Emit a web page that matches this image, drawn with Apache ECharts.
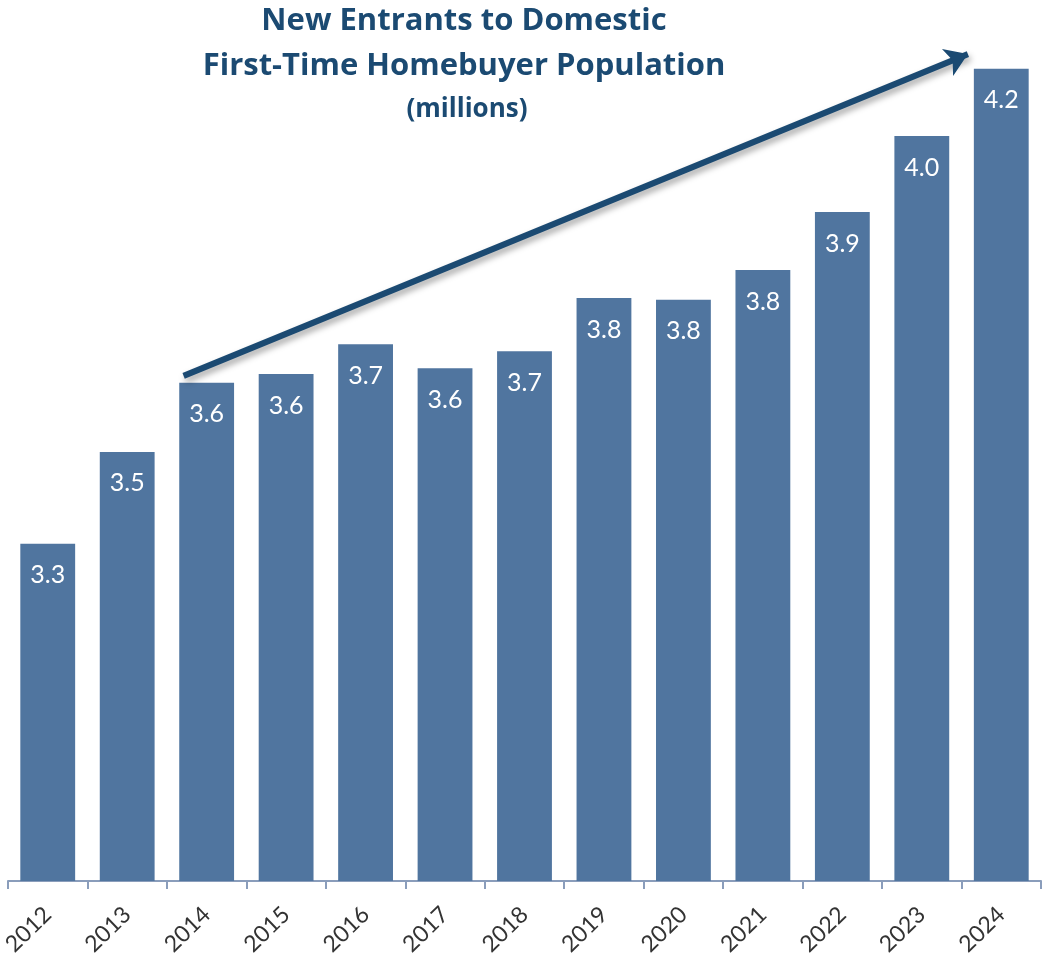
<!DOCTYPE html>
<html>
<head>
<meta charset="utf-8">
<script src="https://cdn.jsdelivr.net/npm/echarts@6/dist/echarts.min.js"></script>
<style>
  html, body { margin: 0; padding: 0; background: #ffffff; }
  #chart { width: 1042px; height: 954px; }
</style>
</head>
<body>
<div id="chart"></div>
<script>
// Years on the category axis
const years = ['2012', '2013', '2014', '2015', '2016', '2017', '2018',
               '2019', '2020', '2021', '2022', '2023', '2024'];
// New entrants to the first-time homebuyer population, millions
const entrants = [3.343, 3.50, 3.618, 3.633, 3.684, 3.643, 3.672,
                  3.763, 3.760, 3.811, 3.910, 4.04, 4.155];
// Trend arrow endpoints: [category position, value]
const trendStart = [1.71, 3.63];
const trendEnd = [11.58, 4.18];

const titleLines = ['New Entrants to Domestic', 'First-Time Homebuyer Population'];
const subtitle = '(millions)';

const navy = '#1b4a72';
const barColor = '#50759f';
const titleFont = '"Open Sans", Lato, sans-serif';
const font = 'Lato, "Open Sans", sans-serif';

const chart = echarts.init(document.getElementById('chart'), null, { renderer: 'canvas' });

chart.setOption({
  animation: false,
  backgroundColor: '#ffffff',
  title: [
    {
      text: titleLines.join('\n'),
      left: 459, top: -6, textAlign: 'center',
      textStyle: { fontFamily: titleFont, fontWeight: 'bold', fontSize: 31, lineHeight: 45, color: navy }
    },
    {
      text: subtitle,
      left: 462, top: 90, textAlign: 'center',
      textStyle: { fontFamily: titleFont, fontWeight: 'bold', fontSize: 26, lineHeight: 30, color: navy }
    }
  ],
  grid: { left: 8, right: 1, top: 42.4, bottom: 73, containLabel: false, outerBoundsMode: 'none' },
  xAxis: [
    {
      type: 'category',
      data: years,
      axisLine: { lineStyle: { color: '#8a9dbb', width: 2 } },
      axisTick: { show: true, length: 8, lineStyle: { color: '#8a9dbb', width: 2 } },
      axisLabel: {
        rotate: 44, margin: 30, interval: 0,
        fontFamily: font, fontSize: 23, color: '#333333'
      }
    },
    {
      type: 'value', min: -0.5, max: 12.5, show: false
    }
  ],
  yAxis: {
    type: 'value', min: 2.7665, max: 4.2, show: false,
    splitLine: { show: false }
  },
  series: [
    {
      type: 'bar',
      data: entrants,
      barWidth: '69%',
      itemStyle: { color: barColor },
      label: {
        show: true, position: 'insideTop', distance: 19,
        fontFamily: font, fontSize: 25, color: '#ffffff',
        formatter: p => p.value.toFixed(1)
      }
    },
    {
      type: 'lines',
      coordinateSystem: 'cartesian2d',
      xAxisIndex: 1, yAxisIndex: 0,
      symbol: ['none', 'arrow'],
      symbolSize: [18, 22],
      lineStyle: {
        color: navy, width: 6, opacity: 1,
        shadowBlur: 6, shadowColor: 'rgba(0,0,0,0.35)', shadowOffsetX: 2, shadowOffsetY: 4
      },
      data: [{ coords: [trendStart, trendEnd] }],
      z: 5
    }
  ]
});
</script>
</body>
</html>
